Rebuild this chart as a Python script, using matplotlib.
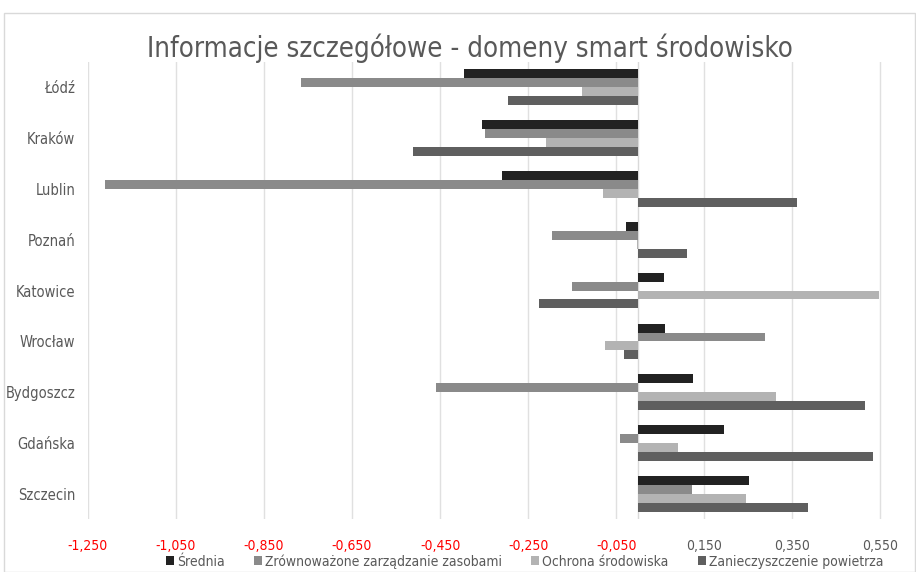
import matplotlib.pyplot as plt
import numpy as np
from matplotlib.patches import Rectangle

plt.rcParams['font.family'] = ['DejaVu Sans']
plt.rcParams['font.stretch'] = 'condensed'

cities = ['Łódź', 'Kraków', 'Lublin', 'Poznań', 'Katowice', 'Wrocław', 'Bydgoszcz', 'Gdańska', 'Szczecin']
series = ['Średnia', 'Zrównoważone zarządzanie zasobami', 'Ochrona środowiska', 'Zanieczyszczenie powietrza']
srednia = [-0.395, -0.355, -0.309, -0.028, 0.058, 0.061, 0.125, 0.194, 0.251]
zrownowazone = [-0.766, -0.348, -1.211, -0.195, -0.151, 0.289, -0.460, -0.041, 0.122]
ochrona = [-0.127, -0.209, -0.081, -0.002, 0.548, -0.076, 0.313, 0.090, 0.246]
zanieczyszczenie = [-0.295, -0.511, 0.361, 0.110, -0.226, -0.033, 0.515, 0.533, 0.386]
ticks = [-1.25, -1.05, -0.85, -0.65, -0.45, -0.25, -0.05, 0.15, 0.35, 0.55]
colors = ['#222222', '#8a8a8a', '#b3b3b3', '#5f5f5f']

fig = plt.figure(figsize=(9.16, 5.72), dpi=100)
fig.patches.append(Rectangle((0.004, 0.0), 0.995, 0.977, transform=fig.transFigure,
                             fill=False, edgecolor='#d9d9d9', linewidth=1))
ax = fig.add_axes([0.096, 0.092, 0.889, 0.8])

y = np.arange(len(cities))
h = 0.175
data = [srednia, zrownowazone, ochrona, zanieczyszczenie]
for i, vals in enumerate(data):
    ax.barh(y + (i - 1.5) * h, vals, height=h, color=colors[i], label=series[i])

ax.set_xlim(-1.25, 0.6)
ax.set_ylim(len(cities) - 0.5, -0.5)
ax.set_xticks(ticks)
ax.set_xticklabels([('%.3f' % t).replace('.', ',') for t in ticks], fontsize=10)
for lab, t in zip(ax.get_xticklabels(), ticks):
    lab.set_color('red' if t < 0 else '#595959')
ax.set_yticks(y)
ax.set_yticklabels(cities, fontsize=10.5, color='#595959')
ax.tick_params(axis='x', length=0, pad=14)
ax.tick_params(axis='y', length=0, pad=9)
ax.grid(axis='x', color='#e0e0e0', linewidth=1)
ax.set_axisbelow(True)
for s in ax.spines.values():
    s.set_visible(False)
ax.axvline(0, color='#d9d9d9', linewidth=1, zorder=0)

fig.text(0.513, 0.916, 'Informacje szczegółowe - domeny smart środowisko', ha='center',
         va='center', fontsize=19.8, color='#595959')
ax.legend(loc='lower center', bbox_to_anchor=(0.536, -0.135), ncol=4, frameon=False,
          fontsize=10, handlelength=0.6, handleheight=0.6, handletextpad=0.2,
          columnspacing=2.1, labelcolor='#595959')

fig.savefig('out.png', dpi=100)
